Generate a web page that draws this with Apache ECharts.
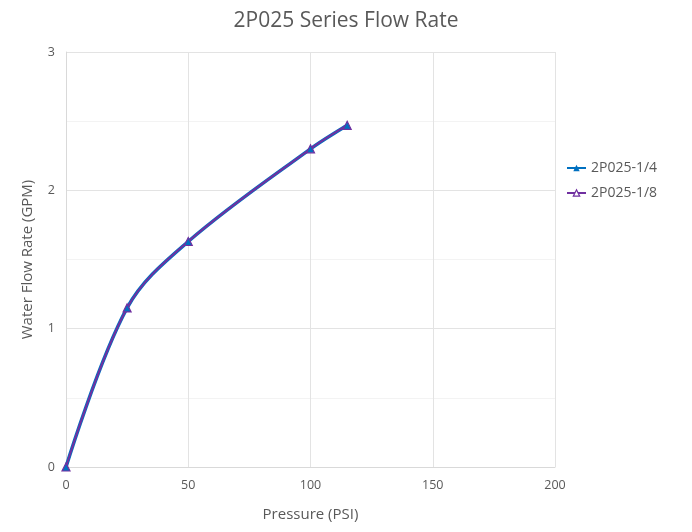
<!DOCTYPE html>
<html>
<head>
<meta charset="utf-8">
<script src="https://cdn.jsdelivr.net/npm/echarts@6/dist/echarts.min.js"></script>
<style>
  html, body { margin: 0; padding: 0; background: #fff; }
  #main { width: 692px; height: 532px; }
</style>
</head>
<body>
<div id="main"></div>
<script>
// pressure (PSI) vs water flow (GPM)
const pressure = [0, 25, 50, 100, 115];
const flowQuarter = [0, 1.15, 1.63, 2.30, 2.47];
const flowEighth = [0, 1.15, 1.63, 2.30, 2.47];
const seriesNames = ['2P025-1/4', '2P025-1/8'];

const chart = echarts.init(document.getElementById('main'));
const txt = '#595959';
const font = '"Open Sans", "Noto Sans", sans-serif';

const pairs = (ys) => pressure.map((x, i) => [x, ys[i]]);

chart.setOption({
  animation: false,
  textStyle: { fontFamily: font },
  title: {
    text: '2P025 Series Flow Rate',
    left: 'center',
    top: 6,
    textStyle: { color: txt, fontSize: 21, fontWeight: 'normal', fontFamily: font }
  },
  legend: {
    orient: 'vertical',
    left: 561,
    top: 156,
    itemGap: 11,
    itemWidth: 19,
    itemHeight: 8,
    textStyle: { color: txt, fontSize: 14, fontFamily: font },
    data: [
      { name: seriesNames[0] },
      { name: seriesNames[1], itemStyle: { color: '#fff', borderColor: '#7030A0', borderWidth: 1.2 } }
    ]
  },
  grid: { left: 66, right: 137, top: 52, bottom: 65 },
  xAxis: {
    type: 'value',
    min: 0, max: 200, interval: 50,
    name: 'Pressure (PSI)',
    nameLocation: 'middle',
    nameGap: 40,
    nameTextStyle: { color: txt, fontSize: 15 },
    axisLine: { lineStyle: { color: '#d9d9d9' } },
    axisTick: { show: false },
    axisLabel: { color: txt, fontSize: 12.5, margin: 12 },
    splitLine: { lineStyle: { color: '#e3e3e3' } }
  },
  yAxis: {
    type: 'value',
    min: 0, max: 3, interval: 1,
    name: 'Water Flow Rate (GPM)',
    nameLocation: 'middle',
    nameGap: 31,
    nameTextStyle: { color: txt, fontSize: 15 },
    axisLine: { show: true, lineStyle: { color: '#d9d9d9' } },
    axisTick: { show: false },
    axisLabel: { color: txt, fontSize: 12.5, margin: 11 },
    splitLine: { lineStyle: { color: '#e3e3e3' } },
    minorTick: { show: false, splitNumber: 2 },
    minorSplitLine: { show: true, lineStyle: { color: '#f3f3f3' } }
  },
  series: [
    {
      name: seriesNames[0],
      type: 'line',
      data: pairs(flowQuarter),
      smooth: 0.35,
      symbol: 'triangle',
      symbolSize: 8,
      lineStyle: { color: '#0070C0', width: 3.5 },
      itemStyle: { color: '#0070C0' }
    },
    {
      name: seriesNames[1],
      type: 'line',
      data: pairs(flowEighth),
      smooth: 0.35,
      symbol: 'triangle',
      symbolSize: 8,
      lineStyle: { color: '#7030A0', width: 2 },
      itemStyle: { color: 'rgba(255,255,255,0)', borderColor: '#7030A0', borderWidth: 1.2 }
    }
  ]
});
</script>
</body>
</html>
